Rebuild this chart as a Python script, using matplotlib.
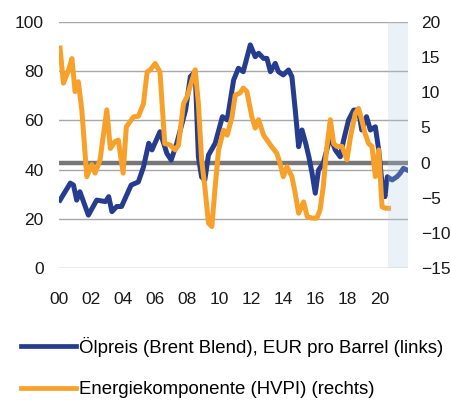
import matplotlib
matplotlib.use("Agg")
from matplotlib import pyplot as plt
from matplotlib.lines import Line2D
import matplotlib.transforms as mtransforms

plt.rcParams['font.family'] = ['Liberation Sans', 'DejaVu Sans']

# Oil price (Brent), EUR per barrel - left axis
oil_t = [2000.06, 2000.7, 2000.9, 2001.1, 2001.3, 2001.83, 2002.35, 2002.9, 2003.1, 2003.3,
         2003.6, 2003.9, 2004.5, 2004.95, 2005.27, 2005.6, 2005.8, 2006.3, 2006.6, 2006.73,
         2007.0, 2007.35, 2007.9, 2008.2, 2008.5, 2008.7, 2008.9, 2009.1, 2009.33, 2009.75,
         2010.2, 2010.5, 2010.9, 2011.2, 2011.5, 2011.94, 2012.25, 2012.46, 2012.77, 2012.98,
         2013.2, 2013.5, 2013.7, 2014.0, 2014.33, 2014.54, 2014.75, 2014.96, 2015.17, 2015.4,
         2015.6, 2015.8, 2016.0, 2016.2, 2016.5, 2016.94, 2017.25, 2017.56, 2017.77, 2018.08,
         2018.4, 2018.7, 2018.9, 2019.2, 2019.44, 2019.75, 2019.96, 2020.17, 2020.35, 2020.5,
         2020.8, 2021.1, 2021.3, 2021.5, 2021.75]
oil_v = [27.6, 34.5, 33.7, 27.6, 31.0, 21.5, 27.6, 27.0, 29.0, 22.9,
         25.0, 25.0, 33.7, 35.0, 41.0, 50.7, 48.0, 55.4, 49.3, 46.6,
         43.9, 50.7, 64.2, 77.8, 79.8, 45.2, 37.0, 35.8, 45.9, 50.7,
         61.5, 60.2, 76.4, 81.2, 79.8, 90.7, 85.9, 87.3, 85.2, 85.2,
         79.8, 83.2, 79.8, 78.5, 80.5, 77.8, 64.2, 49.3, 56.1, 50.7,
         45.2, 38.5, 30.4, 39.8, 42.6, 53.4, 48.0, 45.2, 52.0, 60.2,
         64.2, 64.2, 56.1, 61.5, 56.1, 57.4, 48.0, 34.4, 29.0, 37.1,
         35.8, 37.1, 38.5, 40.5, 39.8]

# Energy component of HICP - right axis
hicp_t = [2000.06, 2000.27, 2000.6, 2000.8, 2001.0, 2001.2, 2001.42, 2001.73, 2002.04, 2002.25,
          2002.56, 2002.98, 2003.2, 2003.5, 2003.7, 2004.0, 2004.2, 2004.65, 2004.96, 2005.27,
          2005.5, 2005.7, 2006.0, 2006.3, 2006.6, 2006.94, 2007.25, 2007.46, 2007.77, 2008.0,
          2008.3, 2008.5, 2008.7, 2008.9, 2009.1, 2009.33, 2009.54, 2009.75, 2009.96, 2010.27,
          2010.5, 2010.8, 2011.0, 2011.3, 2011.5, 2011.73, 2012.04, 2012.25, 2012.46, 2012.77,
          2013.2, 2013.6, 2013.8, 2014.0, 2014.23, 2014.54, 2014.75, 2014.96, 2015.27, 2015.5,
          2015.8, 2016.1, 2016.3, 2016.5, 2016.7, 2016.94, 2017.15, 2017.35, 2017.67, 2017.98,
          2018.2, 2018.5, 2018.7, 2018.9, 2019.1, 2019.33, 2019.54, 2019.75, 2019.96, 2020.17,
          2020.4, 2020.58]
hicp_v = [16.3, 11.3, 13.2, 14.8, 10.1, 11.5, 7.5, -2.0, -0.3, -1.5,
          0.4, 7.5, 2.0, 3.0, 3.2, -1.5, 5.1, 6.5, 6.6, 8.4,
          12.9, 13.2, 14.1, 12.9, 2.7, 2.5, 1.8, 2.5, 8.4, 9.4,
          11.7, 13.2, 8.4, 0.4, -3.4, -8.6, -9.1, -3.4, 1.8, 4.6,
          3.9, 6.5, 9.6, 9.9, 10.6, 10.1, 6.5, 4.9, 6.1, 3.9,
          2.5, 1.3, -0.1, -2.0, -0.6, -2.0, -4.4, -7.2, -5.6, -7.7,
          -7.9, -7.9, -6.7, -3.4, 1.8, 6.1, 2.7, 2.3, 2.3, 0.4,
          3.7, 7.0, 7.7, 6.1, 4.2, 2.7, 2.3, -2.0, 1.8, -6.3,
          -6.5, -6.5]

year_ticks = list(range(2000, 2021, 2))
year_labels = ["%02d" % (y % 100) for y in year_ticks]
left_ticks = [0, 20, 40, 60, 80, 100]
right_ticks = [-15, -10, -5, 0, 5, 10, 15, 20]
forecast_start = 2020.56

blue = '#263c8f'
orange = '#f7a12b'
txt = '#1a1a1a'

fig = plt.figure(figsize=(4.51, 4.0), dpi=100)
ax = fig.add_axes([0.131, 0.33, 0.774, 0.615])
ax2 = ax.twinx()

ax.set_xlim(2000, 2021.8)
ax.set_ylim(0, 100)
ax2.set_ylim(-15, 20)

# grid on left axis
ax.set_yticks(left_ticks)
ax.yaxis.grid(True, color='#a8a8a8', linewidth=1.0)
ax.set_axisbelow(True)

# thick zero line of the right axis, drawn under the oil line
trans = mtransforms.blended_transform_factory(ax.transAxes, ax2.transData)
ax.plot([0, 1], [0, 0], transform=trans, color='#777777', linewidth=3.2, zorder=1.5,
        solid_capstyle='butt')

ax.plot(oil_t, oil_v, color=blue, linewidth=3.6, zorder=2)
ax2.plot(hicp_t, hicp_v, color=orange, linewidth=3.6, zorder=2)

# shaded area at the end
ax2.axvspan(forecast_start, 2021.8, color='#b0cce0', alpha=0.25, linewidth=0, zorder=5)

ax.set_xticks(year_ticks)
ax.set_xticklabels(year_labels)
ax2.set_yticks(right_ticks)

for a in (ax, ax2):
    for s in a.spines.values():
        s.set_visible(False)
    a.tick_params(length=0, labelsize=12.5, colors=txt)
ax.tick_params(axis='x', pad=17)
ax.tick_params(axis='y', pad=11)
ax2.tick_params(axis='y', pad=9)

handles = [Line2D([], [], color=blue, linewidth=3.4),
           Line2D([], [], color=orange, linewidth=3.4)]
labels = ["Ölpreis (Brent Blend), EUR pro Barrel (links)",
          "Energiekomponente (HVPI) (rechts)"]
fig.legend(handles, labels, loc='upper left', bbox_to_anchor=(0.046, 0.158),
           frameon=False, fontsize=13.4, handlelength=2.95, handletextpad=0.2,
           labelspacing=1.3, borderaxespad=0, borderpad=0)

fig.savefig('out.png', dpi=100)
